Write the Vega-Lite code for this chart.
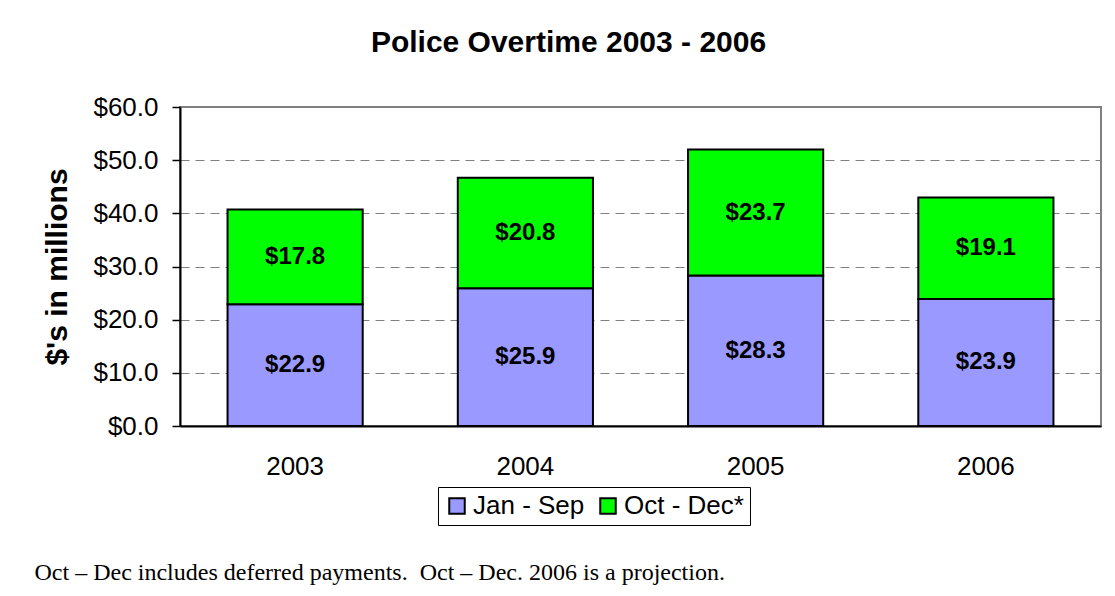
{
  "$schema": "https://vega.github.io/schema/vega-lite/v6.json",
  "width": 921,
  "height": 319,
  "autosize": "none",
  "padding": {"left": 180, "top": 107, "right": 14, "bottom": 170},
  "background": "white",
  "config": {
    "font": "Liberation Sans",
    "view": {"stroke": "#808080", "strokeWidth": 2}
  },
  "title": {
    "text": "Police Overtime 2003 - 2006",
    "fontSize": 30,
    "fontWeight": "bold",
    "color": "black",
    "anchor": "middle",
    "frame": "group",
    "dx": -72,
    "offset": 36
  },
  "data": {
    "values": [
      {"year": "2003", "period": "Jan - Sep", "value": 22.9, "ord": 0},
      {"year": "2003", "period": "Oct - Dec*", "value": 17.8, "ord": 1},
      {"year": "2004", "period": "Jan - Sep", "value": 25.9, "ord": 0},
      {"year": "2004", "period": "Oct - Dec*", "value": 20.8, "ord": 1},
      {"year": "2005", "period": "Jan - Sep", "value": 28.3, "ord": 0},
      {"year": "2005", "period": "Oct - Dec*", "value": 23.7, "ord": 1},
      {"year": "2006", "period": "Jan - Sep", "value": 23.9, "ord": 0},
      {"year": "2006", "period": "Oct - Dec*", "value": 19.1, "ord": 1}
    ]
  },
  "transform": [
    {"stack": "value", "groupby": ["year"], "sort": [{"field": "ord"}], "as": ["v0", "v1"]},
    {"calculate": "(datum.v0 + datum.v1) / 2", "as": "mid"}
  ],
  "encoding": {
    "x": {
      "field": "year",
      "type": "ordinal",
      "scale": {"paddingInner": 0.413, "paddingOuter": 0.2065},
      "axis": {
        "title": "Oct \u2013 Dec includes deferred payments.\u00a0 Oct \u2013 Dec. 2006 is a projection.",
        "titleFont": "Liberation Serif",
        "titleFontSize": 24,
        "titleFontWeight": "normal",
        "titleColor": "black",
        "titleAnchor": "start",
        "titleAlign": "left",
        "titleBaseline": "alphabetic",
        "titleX": -146,
        "titleY": 153,
        "labelAngle": 0,
        "labelFontSize": 26,
        "labelColor": "black",
        "labelPadding": 27,
        "ticks": false,
        "domainColor": "black",
        "domainWidth": 2
      }
    }
  },
  "layer": [
    {
      "mark": {"type": "bar", "stroke": "black", "strokeWidth": 2},
      "encoding": {
        "y": {
          "field": "v0",
          "type": "quantitative",
          "scale": {"domain": [0, 60], "nice": false},
          "axis": {
            "title": "$'s in millions",
            "titleFontSize": 30,
            "titleFontWeight": "bold",
            "titleColor": "black",
            "titlePadding": 20,
            "format": "$.1f",
            "values": [0, 10, 20, 30, 40, 50, 60],
            "labelOverlap": false,
            "labelFontSize": 26,
            "labelColor": "black",
            "labelPadding": 14,
            "tickSize": 8,
            "tickColor": "black",
            "tickWidth": 1.5,
            "domainColor": "black",
            "domainWidth": 2,
            "grid": true,
            "gridColor": "#808080",
            "gridDash": [9, 6],
            "gridWidth": 1.2
          }
        },
        "y2": {"field": "v1"},
        "color": {
          "field": "period",
          "type": "nominal",
          "scale": {"domain": ["Jan - Sep", "Oct - Dec*"], "range": ["#9999FF", "#00FF00"]},
          "legend": {
            "title": null,
            "orient": "none",
            "direction": "horizontal",
            "legendX": 258,
            "legendY": 380,
            "labelFontSize": 26,
            "labelColor": "black",
            "symbolType": "square",
            "symbolSize": 240,
            "symbolStrokeColor": "black",
            "symbolStrokeWidth": 2,
            "symbolOpacity": 1,
            "labelOffset": 3,
            "columnPadding": 10,
            "strokeColor": "black",
            "padding": 6
          }
        }
      }
    },
    {
      "mark": {"type": "text", "fontSize": 24, "fontWeight": "bold", "color": "black", "baseline": "middle"},
      "encoding": {
        "y": {"field": "mid", "type": "quantitative"},
        "text": {"field": "value", "type": "quantitative", "format": "$.1f"}
      }
    }
  ]
}
